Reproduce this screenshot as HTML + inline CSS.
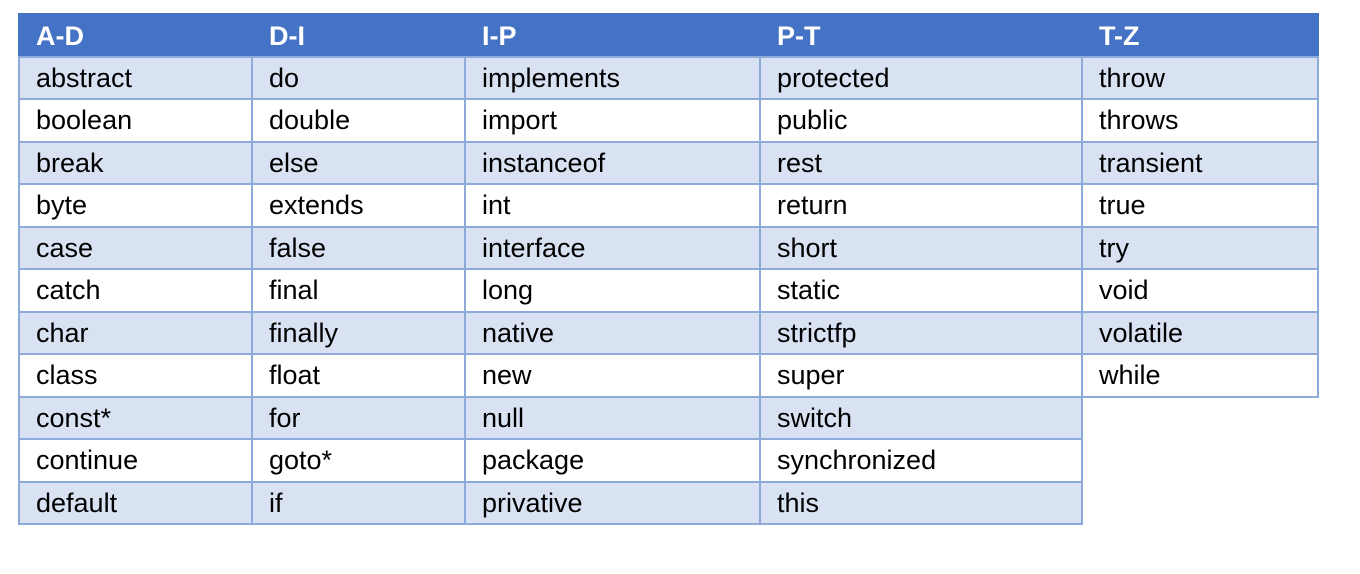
<!DOCTYPE html>
<html><head><style>
body{margin:0;width:1360px;height:574px;background:#fff;position:relative;overflow:hidden;font-family:"Liberation Sans",sans-serif}
.c{position:absolute;box-sizing:border-box;border:2px solid #8eaadb;font-size:27px;padding-left:16px;color:#000;white-space:nowrap}
.h{background:#4472c4;color:#fff;font-weight:bold;border-color:#4472c4}
.a{background:#d9e2f3}
</style></head><body>
<div id="t"></div>
<script>
const X=[18,251,464,759,1081,1317];
const cols=[
["A-D","abstract","boolean","break","byte","case","catch","char","class","const*","continue","default"],
["D-I","do","double","else","extends","false","final","finally","float","for","goto*","if"],
["I-P","implements","import","instanceof","int","interface","long","native","new","null","package","privative"],
["P-T","protected","public","rest","return","short","static","strictfp","super","switch","synchronized","this"],
["T-Z","throw","throws","transient","true","try","void","volatile","while"]];
let h="";
for(let c=0;c<5;c++){for(let r=0;r<cols[c].length;r++){
 let y0=r==0?13:Math.round(56+(r-1)*42.45);
 let y1=r==0?57:Math.round(56+r*42.45);
 let cls="c"+(r==0?" h":(r%2==1?" a":""));
 h+=`<div class="${cls}" style="left:${X[c]}px;top:${y0}px;width:${X[c+1]-X[c]+2}px;height:${y1-y0+2}px;line-height:${y1-y0-2}px">${cols[c][r]}</div>`;
}}
document.getElementById("t").innerHTML=h;
</script>
</body></html>
